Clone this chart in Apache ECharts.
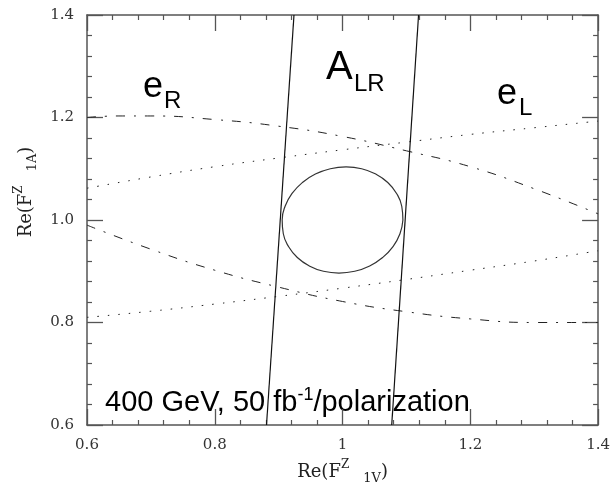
<!DOCTYPE html>
<html><head><meta charset="utf-8">
<script src="https://cdn.jsdelivr.net/npm/echarts@6/dist/echarts.min.js"></script>
<style>html,body{margin:0;padding:0;background:#fff}#c{width:613px;height:490px}</style>
</head><body><div id="c"></div>
<script>
// ---- data ----
const xTickLabels = ['0.6', '0.8', '1', '1.2', '1.4'];
const yTickLabels = ['0.6', '0.8', '1.0', '1.2', '1.4'];

// e_R (dash-dot) bounds
const eRUpper = [[0.6,1.200],[0.65,1.203],[0.7,1.203],[0.8,1.196],[0.9,1.183],[1.0,1.163],[1.1,1.135],[1.2,1.104],[1.3,1.061],[1.4,1.012]];
const eRLower = [[0.6,0.990],[0.7,0.943],[0.8,0.902],[0.9,0.869],[1.0,0.841],[1.1,0.821],[1.2,0.807],[1.3,0.800],[1.4,0.800]];
// e_L (dotted) bounds
const eLUpper = [[0.6,1.062],[0.7,1.084],[0.8,1.104],[0.9,1.121],[1.0,1.137],[1.1,1.152],[1.2,1.167],[1.3,1.180],[1.4,1.193]];
const eLLower = [[0.6,0.810],[0.7,0.822],[0.8,0.836],[0.9,0.851],[1.0,0.867],[1.1,0.884],[1.2,0.902],[1.3,0.920],[1.4,0.940]];
// A_LR band edges
const alrLeft = [[0.881,0.6],[0.924,1.4]];
const alrRight = [[1.077,0.6],[1.119,1.4]];
// combined contour (closed)
const contour = [[1.0945,1.0],[1.0927,1.0268],[1.0846,1.0518],[1.0708,1.0732],[1.0521,1.0896],[1.0299,1.1000],
  [1.0056,1.1035],[0.9809,1.1000],[0.9575,1.0896],[0.9372,1.0732],[0.9210,1.0518],[0.9101,1.0268],
  [0.9055,1.0],[0.9073,0.9732],[0.9154,0.9482],[0.9292,0.9268],[0.9479,0.9104],[0.9701,0.9000],
  [0.9944,0.8965],[1.0191,0.9000],[1.0425,0.9104],[1.0628,0.9268],[1.0790,0.9482],[1.0899,0.9732],[1.0945,1.0]];

const axisColor = '#555';
function lbl(arr){ return v => arr[Math.round((v - 0.6) / 0.2)] || ''; }

function mkAxis(pos, labels, extra){
  return Object.assign({
    type: 'value', min: 0.6, max: 1.4, interval: 0.2, position: pos,
    axisLine: { show: true, onZero: false, lineStyle: { color: axisColor, width: 1.5 } },
    axisTick: { show: true, inside: true, length: 16, lineStyle: { color: axisColor, width: 1.3 } },
    minorTick: { show: true, splitNumber: 5, length: 5, lineStyle: { color: axisColor, width: 1.2 } },
    splitLine: { show: false }, minorSplitLine: { show: false },
    axisLabel: labels ? { show: true, formatter: lbl(labels), fontFamily: 'DejaVu Serif', fontSize: 15, color: '#333', margin: 13 } : { show: false }
  }, extra || {});
}

const titleRich = {
  m: { fontFamily: 'DejaVu Serif', fontSize: 18, lineHeight: 26, color: '#222', verticalAlign: 'middle' },
  sup: { fontFamily: 'DejaVu Serif', fontSize: 12, lineHeight: 12, color: '#222', verticalAlign: 'top' },
  sub: { fontFamily: 'DejaVu Serif', fontSize: 13, lineHeight: 12, color: '#222', verticalAlign: 'bottom' },
  g: { fontSize: 11, width: 14, lineHeight: 12 }
};

const chart = echarts.init(document.getElementById('c'), null, { renderer: 'canvas' });
const lineBase = { type: 'line', showSymbol: false, symbol: 'none', silent: true, animation: false, xAxisIndex: 0, yAxisIndex: 0 };

chart.setOption({
  animation: false,
  backgroundColor: '#fff',
  grid: { left: 87, right: 7, top: 15, bottom: 59 },
  xAxis: [
    mkAxis('bottom', xTickLabels, {
      name: '{m|Re(F}{sup|Z}{g| }{sub|1V}{m|)}', nameLocation: 'middle', nameGap: 34,
      nameTextStyle: { rich: titleRich }
    }),
    mkAxis('top', null)
  ],
  yAxis: [
    mkAxis('left', yTickLabels, {
      name: '{m|Re(F}{sup|Z}{g| }{sub|1A}{m|)}', nameLocation: 'middle', nameGap: 48, nameRotate: 90,
      nameTextStyle: { rich: titleRich, padding: [0, 0, 0, 56] }
    }),
    mkAxis('right', null)
  ],
  series: [
    Object.assign({}, lineBase, { name: 'eR upper', data: eRUpper, smooth: true, lineStyle: { color: '#222', width: 1, type: [9, 9, 2, 9] } }),
    Object.assign({}, lineBase, { name: 'eR lower', data: eRLower, smooth: true, lineStyle: { color: '#222', width: 1, type: [9, 9, 2, 9] } }),
    Object.assign({}, lineBase, { name: 'eL upper', data: eLUpper, smooth: true, lineStyle: { color: '#222', width: 1, type: [1.5, 9] } }),
    Object.assign({}, lineBase, { name: 'eL lower', data: eLLower, smooth: true, lineStyle: { color: '#222', width: 1, type: [1.5, 9] } }),
    Object.assign({}, lineBase, { name: 'ALR left', data: alrLeft, lineStyle: { color: '#111', width: 1.2, type: 'solid' } }),
    Object.assign({}, lineBase, { name: 'ALR right', data: alrRight, lineStyle: { color: '#111', width: 1.2, type: 'solid' } }),
    Object.assign({}, lineBase, { name: 'combined', data: contour, smooth: true, lineStyle: { color: '#333', width: 1.2, type: 'solid' } })
  ],
  graphic: [
    { type: 'text', style: { text: 'e', x: 143, y: 87.5, verticalAlign: 'middle', font: '36px "Liberation Sans"', fill: '#000' } },
    { type: 'text', style: { text: 'R', x: 164, y: 101.7, verticalAlign: 'middle', font: '24px "Liberation Sans"', fill: '#000' } },
    { type: 'text', style: { text: 'A', x: 326, y: 68, verticalAlign: 'middle', font: '40px "Liberation Sans"', fill: '#000' } },
    { type: 'text', style: { text: 'LR', x: 354, y: 84.7, verticalAlign: 'middle', font: '24px "Liberation Sans"', fill: '#000' } },
    { type: 'text', style: { text: 'e', x: 497, y: 94.5, verticalAlign: 'middle', font: '36px "Liberation Sans"', fill: '#000' } },
    { type: 'text', style: { text: 'L', x: 519, y: 108.7, verticalAlign: 'middle', font: '24px "Liberation Sans"', fill: '#000' } },
    { type: 'text', style: {
        text: '{m|400 GeV, 50 fb}{s|-1}{m|/polarization}', x: 105, y: 386, verticalAlign: 'top',
        rich: {
          m: { fontFamily: 'Liberation Sans', fontSize: 29, lineHeight: 34, fill: '#000', verticalAlign: 'middle' },
          s: { fontFamily: 'Liberation Sans', fontSize: 18, lineHeight: 18, fill: '#000', verticalAlign: 'top' }
        }
    } }
  ]
});
</script>
</body></html>
